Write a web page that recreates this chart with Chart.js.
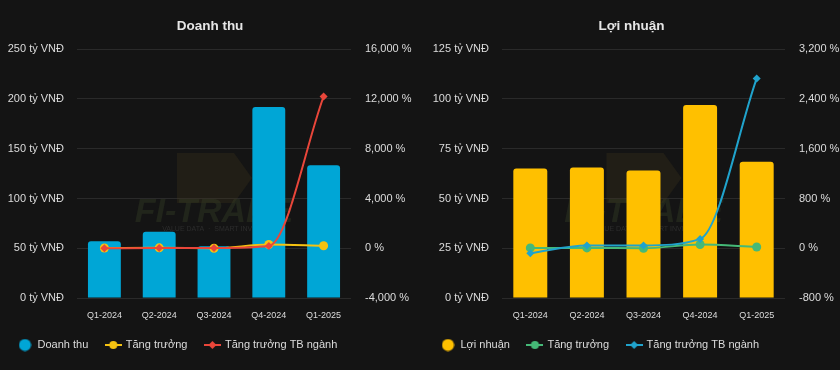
<!DOCTYPE html>
<html><head><meta charset="utf-8">
<script src="https://cdn.jsdelivr.net/npm/chart.js@4.4.1/dist/chart.umd.min.js"></script>
<style>
html,body{margin:0;padding:0;background:#141414;}
#wrap{display:flex;width:840px;height:370px;}
.box{position:relative;width:420px;height:370px;}
canvas{display:block;}
</style></head><body>
<div id="wrap">
<div class="box"><canvas id="c1" width="420" height="370"></canvas></div>
<div class="box"><canvas id="c2" width="420" height="370"></canvas></div>
</div>
<script>
// ---- data ----
const categories = ['Q1-2024', 'Q2-2024', 'Q3-2024', 'Q4-2024', 'Q1-2025'];
const revenue = [57, 66.5, 52, 192, 133.5];
const revenueGrowth = [20, 30, 0, 300, 200];
const revenueIndustry = [0, 20, 20, 180, 12200];
const profit = [65, 65.6, 64, 97, 68.4];
const profitGrowth = [5, 5, 0, 60, 20];
const profitIndustry = [-80, 45, 45, 150, 2730];
const revenueValueAxis = [0, 250, 50];      // min, max, step (tỷ VNĐ)
const revenuePctAxis = [-4000, 16000, 4000]; // min, max, step (%)
const profitValueAxis = [0, 125, 25];
const profitPctAxis = [-800, 3200, 800];
const revenueLabels = ['Doanh thu', 'Tăng trưởng', 'Tăng trưởng TB ngành'];
const profitLabels = ['Lợi nhuận', 'Tăng trưởng', 'Tăng trưởng TB ngành'];

const FONT = '"Liberation Sans", Arial, sans-serif';
const TEXT = '#dcdcdc';
const GRID = '#2a2a2a';

function dotImg(color) {
  const c = document.createElement('canvas'); c.width = 13; c.height = 13;
  const g = c.getContext('2d'); g.fillStyle = color;
  g.beginPath(); g.arc(6.5, 6.5, 6, 0, Math.PI * 2); g.fill(); return c;
}
function lineImg(color, shape) {
  const c = document.createElement('canvas'); c.width = 17; c.height = 10;
  const g = c.getContext('2d'); g.strokeStyle = color; g.fillStyle = color; g.lineWidth = 2;
  g.beginPath(); g.moveTo(0, 5); g.lineTo(17, 5); g.stroke();
  g.beginPath();
  if (shape === 'circle') { g.arc(8.5, 5, 4, 0, Math.PI * 2); }
  else { g.moveTo(8.5, 1); g.lineTo(12.5, 5); g.lineTo(8.5, 9); g.lineTo(4.5, 5); g.closePath(); }
  g.fill(); return c;
}

const watermark = {
  id: 'watermark',
  beforeDatasetsDraw(chart) {
    const {ctx, chartArea: a} = chart;
    const cx = (a.left + a.right) / 2;
    ctx.save();
    ctx.fillStyle = 'rgba(70,58,28,0.28)';
    ctx.beginPath();
    ctx.moveTo(cx - 37, 153); ctx.lineTo(cx + 20, 153); ctx.lineTo(cx + 38, 178);
    ctx.lineTo(cx + 20, 203); ctx.lineTo(cx - 37, 203); ctx.closePath(); ctx.fill();
    ctx.fillStyle = 'rgba(62,74,44,0.33)';
    ctx.font = 'italic bold 34px ' + FONT;
    ctx.textAlign = 'center'; ctx.textBaseline = 'middle';
    ctx.fillText('FI-TRADE', cx, 213);
    ctx.font = '7px ' + FONT;
    ctx.fillStyle = 'rgba(80,80,80,0.4)';
    ctx.fillText('VALUE DATA  ·  SMART INVEST', cx, 229);
    ctx.restore();
  }
};

function makeChart(id, title, labels, bars, growth, industry, barColor, growthColor, indColor, vAxis, pAxis, cfg) {
  const imgs = [dotImg(barColor), lineImg(growthColor, 'circle'), lineImg(indColor, 'diamond')];
  return new Chart(document.getElementById(id), {
    type: 'bar',
    data: {
      labels: categories,
      datasets: [
        { type: 'bar', label: labels[0], data: bars, backgroundColor: barColor, yAxisID: 'y',
          barPercentage: 0.6, categoryPercentage: 1, borderRadius: {topLeft: 3, topRight: 3}, borderSkipped: 'bottom', order: 3 },
        { type: 'line', label: labels[1], data: growth, borderColor: growthColor, backgroundColor: growthColor,
          yAxisID: 'y1', borderWidth: 2, pointRadius: 4.5, pointStyle: 'circle', pointBorderWidth: 0,
          cubicInterpolationMode: 'monotone', order: 2 },
        { type: 'line', label: labels[2], data: industry, borderColor: indColor, backgroundColor: indColor,
          yAxisID: 'y1', borderWidth: 2, pointRadius: 4, pointStyle: 'rectRot', pointBorderWidth: 0,
          cubicInterpolationMode: 'monotone', order: 1 }
      ]
    },
    options: {
      responsive: false, animation: false,
      layout: { padding: { left: cfg.padLeft, right: 0, top: 0, bottom: 9.5 } },
      plugins: {
        title: { display: true, text: title, color: '#e6e6e6', font: { family: FONT, size: 13.5, weight: 'bold' },
          padding: { top: 18, bottom: 15 } },
        legend: { position: 'bottom', align: 'start',
          labels: { color: TEXT, font: { family: FONT, size: 11 }, usePointStyle: true, pointStyleWidth: 14,
            boxHeight: 11, padding: 18,
            sort: (a, b) => a.datasetIndex - b.datasetIndex,
            generateLabels(chart) {
              const items = Chart.defaults.plugins.legend.labels.generateLabels(chart);
              items.forEach(it => { it.pointStyle = imgs[it.datasetIndex]; });
              return items;
            } } },
        tooltip: { enabled: false }
      },
      scales: {
        x: { grid: { display: false, drawTicks: false }, border: { display: false },
          ticks: { color: TEXT, font: { family: FONT, size: 9 }, padding: 12.6, maxRotation: 0 },
          afterFit(s) { s.height = 23.5; } },
        y: { position: 'left', min: vAxis[0], max: vAxis[1],
          grid: { color: GRID, drawTicks: false, lineWidth: 1 }, border: { display: false },
          ticks: { stepSize: vAxis[2], color: TEXT, font: { family: FONT, size: 11 }, padding: 13,
            callback: v => v + ' tỷ VNĐ' },
          afterFit(s) { s.width = cfg.leftW; } },
        y1: { position: 'right', min: pAxis[0], max: pAxis[1],
          grid: { display: false, drawTicks: false }, border: { display: false },
          ticks: { stepSize: pAxis[2], color: TEXT, font: { family: FONT, size: 11 }, padding: 14,
            callback: v => v.toLocaleString('en-US') + ' %' },
          afterFit(s) { s.width = cfg.rightW; } }
      }
    },
    plugins: [watermark]
  });
}

makeChart('c1', 'Doanh thu', revenueLabels, revenue, revenueGrowth, revenueIndustry,
  '#00a6d6', '#f5c211', '#e9463a', revenueValueAxis, revenuePctAxis, { padLeft: 0, leftW: 77, rightW: 69 });
makeChart('c2', 'Lợi nhuận', profitLabels, profit, profitGrowth, profitIndustry,
  '#ffc000', '#45b977', '#20a3cc', profitValueAxis, profitPctAxis, { padLeft: 3, leftW: 79, rightW: 55 });
</script>
</body></html>
